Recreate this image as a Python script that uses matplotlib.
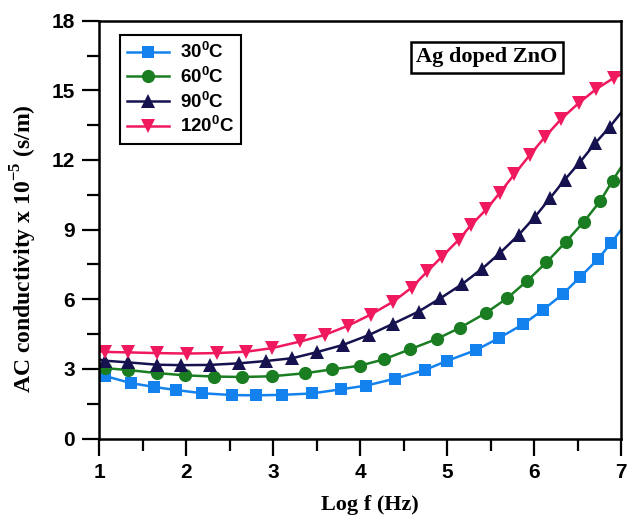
import matplotlib
matplotlib.use('Agg')
import matplotlib.pyplot as plt
from matplotlib.ticker import MultipleLocator

plt.rcParams['mathtext.fontset'] = 'custom'
plt.rcParams['mathtext.bf'] = 'Liberation Sans:bold'
plt.rcParams['mathtext.rm'] = 'Liberation Serif:bold'

# ---- data ----
logf_30 = [1.00, 1.07, 1.36, 1.63, 1.88, 2.18, 2.53, 2.80, 3.10, 3.44, 3.78, 4.07, 4.40,
           4.74, 5.00, 5.33, 5.59, 5.87, 6.10, 6.33, 6.53, 6.73, 6.88, 7.00]
sigma_30 = [2.80, 2.69, 2.39, 2.22, 2.09, 1.95, 1.87, 1.86, 1.88, 1.94, 2.12, 2.28, 2.58,
            2.95, 3.35, 3.81, 4.32, 4.92, 5.54, 6.23, 6.97, 7.72, 8.41, 9.00]

logf_60 = [1.00, 1.07, 1.33, 1.66, 1.99, 2.32, 2.64, 2.98, 3.36, 3.68, 4.00, 4.27, 4.57,
           4.88, 5.15, 5.44, 5.69, 5.92, 6.14, 6.36, 6.57, 6.76, 6.90, 7.00]
sigma_60 = [3.08, 3.03, 2.95, 2.82, 2.72, 2.67, 2.65, 2.68, 2.81, 2.98, 3.14, 3.41, 3.84,
            4.29, 4.78, 5.40, 6.05, 6.80, 7.59, 8.46, 9.34, 10.24, 11.11, 11.70]

logf_90 = [1.00, 1.07, 1.33, 1.66, 1.94, 2.27, 2.61, 2.92, 3.22, 3.50, 3.80, 4.10, 4.38,
           4.67, 4.92, 5.17, 5.40, 5.61, 5.82, 6.01, 6.18, 6.35, 6.53, 6.70, 6.87, 7.00]
sigma_90 = [3.40, 3.35, 3.28, 3.18, 3.16, 3.17, 3.24, 3.34, 3.46, 3.72, 4.03, 4.46, 4.95,
            5.47, 6.04, 6.65, 7.31, 8.01, 8.77, 9.56, 10.35, 11.15, 11.93, 12.72, 13.44, 14.05]

logf_120 = [1.00, 1.07, 1.33, 1.66, 2.01, 2.35, 2.69, 2.98, 3.31, 3.59, 3.86, 4.12, 4.38,
            4.59, 4.77, 4.94, 5.13, 5.27, 5.45, 5.60, 5.77, 5.95, 6.12, 6.31, 6.51, 6.71,
            6.92, 7.00]
sigma_120 = [3.76, 3.73, 3.71, 3.68, 3.66, 3.68, 3.74, 3.89, 4.18, 4.46, 4.86, 5.34, 5.90,
             6.50, 7.20, 7.84, 8.56, 9.18, 9.88, 10.57, 11.38, 12.22, 12.98, 13.77, 14.45,
             15.05, 15.55, 15.68]

labels = [r'$\mathbf{30^{0}C}$', r'$\mathbf{60^{0}C}$', r'$\mathbf{90^{0}C}$', r'$\mathbf{120^{0}C}$']
colors = ['#1482ee', '#1a7d22', '#16124f', '#f0195e']
markers = ['s', 'o', '^', 'v']
msizes = [8.5, 9.5, 10, 10]

x_ticks = [1, 2, 3, 4, 5, 6, 7]
y_ticks = [0, 3, 6, 9, 12, 15, 18]

series = [(logf_30, sigma_30), (logf_60, sigma_60), (logf_90, sigma_90), (logf_120, sigma_120)]

fig = plt.figure(figsize=(6.28, 5.18), dpi=100)
ax = fig.add_axes([99.3 / 628, 1 - 438.5 / 518, 522 / 628, (438.5 - 20.7) / 518])

for (xs, ys), lab, c, m, ms in zip(series, labels, colors, markers, msizes):
    ax.plot(xs, ys, color=c, lw=1.8, marker=m, ms=ms, markevery=slice(1, -1),
            markeredgewidth=0, label=lab)

ax.set_xlim(1, 7)
ax.set_ylim(0, 18)
ax.set_xticks(x_ticks)
ax.set_yticks(y_ticks)
ax.xaxis.set_minor_locator(MultipleLocator(0.5))
ax.yaxis.set_minor_locator(MultipleLocator(1.5))
ax.tick_params(which='major', direction='out', length=12.5, width=1.6, pad=5,
               labelsize=15, top=False, right=False)
ax.tick_params(which='minor', direction='out', length=8.5, width=1.6, top=False, right=False)
for lab in ax.get_xticklabels() + ax.get_yticklabels():
    lab.set_fontfamily('Liberation Sans')
    lab.set_fontweight('bold')
for sp in ax.spines.values():
    sp.set_linewidth(1.8)

ax.set_xlabel('Log f (Hz)', fontfamily='Liberation Serif', fontweight='bold', fontsize=16)
ax.xaxis.set_label_coords(0.519, -0.136)
ax.set_ylabel(r'AC conductivity x 10$^{\mathrm{-5}}$ (s/m)', fontfamily='Liberation Serif',
              fontweight='bold', fontsize=17)
ax.yaxis.set_label_coords(-0.116, 0.454)

leg = ax.legend(loc='upper left', bbox_to_anchor=(0.04, 0.966), borderaxespad=0,
                fancybox=False, edgecolor='black', framealpha=1,
                prop={'family': 'Liberation Sans', 'weight': 'bold', 'size': 13.5},
                handlelength=2.2, handletextpad=0.6, labelspacing=0.25, borderpad=0.38)
leg.get_frame().set_linewidth(1.5)

ax.text(0.743, 0.912, 'Ag doped ZnO', transform=ax.transAxes, ha='center', va='center',
        fontfamily='Liberation Serif', fontweight='bold', fontsize=16,
        bbox=dict(boxstyle='square,pad=0.25', facecolor='white', edgecolor='black', linewidth=1.8))

fig.savefig('out.png', dpi=100)
